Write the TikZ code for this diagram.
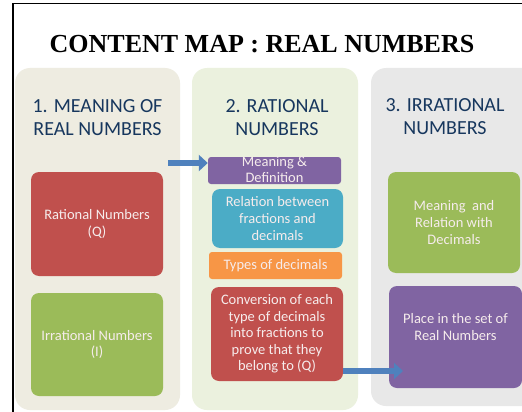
\documentclass[tikz,border=0pt]{standalone}
\usepackage{fontspec}
\setmainfont{Carlito}
\newfontfamily\titlefont{Liberation Serif}
\usetikzlibrary{arrows.meta}
\definecolor{colA}{HTML}{EEECE1}
\definecolor{colB}{HTML}{EBF1DE}
\definecolor{colC}{HTML}{E8E8E8}
\definecolor{hdrblue}{HTML}{17375E}
\definecolor{bred}{HTML}{C0504D}
\definecolor{bgreen}{HTML}{9BBB59}
\definecolor{bpurple}{HTML}{8064A2}
\definecolor{bblue}{HTML}{4BACC6}
\definecolor{borange}{HTML}{F79646}
\definecolor{arrblue}{HTML}{4F81BD}
\definecolor{boxtext}{HTML}{F6ECEC}
\begin{document}
\begin{tikzpicture}[x=1pt,y=-1pt,
  column/.style={rounded corners=15pt, inner sep=0pt},
  hdr/.style={align=center, text=hdrblue, font=\fontsize{20}{23}\selectfont, inner sep=0pt},
  box/.style={rounded corners=8pt, inner sep=0pt, align=center, text=boxtext, font=\fontsize{14.5}{16.6}\selectfont},
  boxtxt/.style={align=center, text=boxtext, font=\fontsize{14.5}{16.6}\selectfont, inner sep=0pt},
  bigarrow/.style={draw=arrblue, line width=6pt, -{Triangle[length=9pt,width=16pt]}}]
\useasboundingbox (0,0) rectangle (522,412);
\fill[white] (0,0) rectangle (522,412);
\draw[line width=1.6pt] (13,440) -- (13,3.5) -- (560,3.5);
\node[font=\titlefont\bfseries\fontsize{26}{30}\selectfont, inner sep=0pt] (title) at (262,44) {CONTENT MAP : REAL NUMBERS};
% columns
\node[column, fill=colA, minimum width=165pt, minimum height=342pt] (c1) at (97.5,239) {};
\node[column, fill=colB, minimum width=166pt, minimum height=342pt] (c2) at (275,239) {};
\node[column, fill=colC, minimum width=166pt, minimum height=338pt] (c3) at (454,237) {};
% headers
\node[hdr] (h1) at (97.5,118) {1. MEANING OF\\REAL NUMBERS};
\node[hdr] (h2) at (277,118) {2. RATIONAL\\NUMBERS};
\node[hdr] (h3) at (445,117) {3. IRRATIONAL\\NUMBERS};
% column 1
\node[box, fill=bred, minimum width=132pt, minimum height=104pt] (q1) at (97,224) {Rational Numbers\\(Q)};
\node[box, fill=bgreen, minimum width=132pt, minimum height=103pt] (i1) at (97,344.5) {Irrational Numbers\\(I)};
% column 2
\node[box, fill=bpurple, rounded corners=3pt, minimum width=133pt, minimum height=27pt] (mean) at (274.5,170.5) {};
\node[boxtxt] (meant) at (274.5,169.5) {Meaning \&\\Definition};
\node[box, fill=bblue, minimum width=131pt, minimum height=59pt] (rel) at (277.5,218.5) {Relation between\\fractions and\\decimals};
\node[box, fill=borange, rounded corners=3pt, minimum width=133pt, minimum height=27pt] (typ) at (275.5,265.5) {Types of decimals};
\node[box, fill=bred, minimum width=132pt, minimum height=94pt] (conv) at (277,334) {Conversion of each\\type of decimals\\into fractions to\\prove that they\\belong to (Q)};
% column 3
\node[box, fill=bgreen, minimum width=132pt, minimum height=101pt] (mr) at (454,222.5) {Meaning~ and\\Relation with\\Decimals};
\node[box, fill=bpurple, minimum width=133pt, minimum height=102pt] (pl) at (455.5,337) {};
\node[boxtxt] (plt) at (455.5,327) {Place in the set of\\Real Numbers};
% arrows
\coordinate (a1s) at (168,163);
\draw[bigarrow] (a1s) -- (a1s -| mean.west);
\coordinate (a2e) at (403,371);
\draw[bigarrow] (conv.east |- a2e) -- (a2e);
\end{tikzpicture}
\end{document}
